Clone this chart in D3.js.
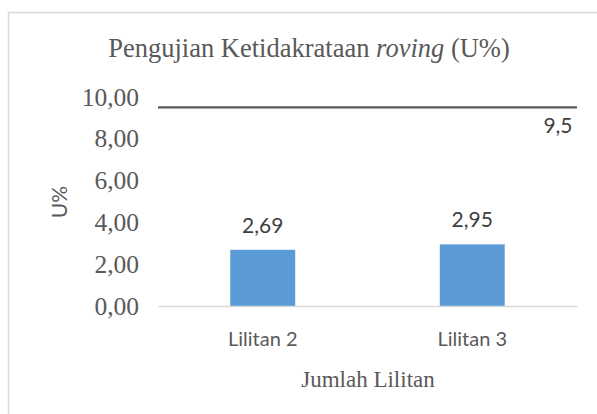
<!DOCTYPE html>
<html>
<head>
<meta charset="utf-8">
<script src="https://cdn.jsdelivr.net/npm/d3@7"></script>
<style>
  body { margin: 0; background: #fff; }
  svg { display: block; }
</style>
</head>
<body>
<div id="chart"></div>
<script>
// data
var categories = ["Lilitan 2", "Lilitan 3"];
var values = [2.69, 2.95];
var yTicks = [0, 2, 4, 6, 8, 10];
var limitValue = 9.5;

function init() {
    var w = 597;
    var h = 414;

    var svg = d3.select("#chart")
        .append("svg")
        .attr("width", w)
        .attr("height", h);

    // chart frame (runs off the right and bottom edge like the reference)
    svg.append("rect")
        .attr("x", 8.5)
        .attr("y", 12.5)
        .attr("width", 620)
        .attr("height", 420)
        .attr("fill", "#fff")
        .attr("stroke", "#d9d9d9")
        .attr("stroke-width", 1.5);

    var left = 158, right = 577, bottom = 306, top = 97;

    var comma = function(f) {
        return function(v) { return f(v).replace(".", ","); };
    };

    var xScale = d3.scaleBand()
        .domain(categories)
        .range([left, right])
        .paddingInner(0.69)
        .paddingOuter(0.345);

    var yScale = d3.scaleLinear()
        .domain([0, 10])
        .range([bottom, top]);

    // title
    var title = svg.append("text")
        .attr("x", 309)
        .attr("y", 57)
        .attr("text-anchor", "middle")
        .attr("font-family", "'Liberation Serif', 'Times New Roman', serif")
        .attr("font-size", 26.5)
        .attr("fill", "#595959");
    title.append("tspan").text("Pengujian Ketidakrataan ");
    title.append("tspan").attr("font-style", "italic").text("roving");
    title.append("tspan").text(" (U%)");

    // y axis
    var yAxis = svg.append("g")
        .attr("transform", "translate(" + left + ",0)")
        .call(d3.axisLeft(yScale)
            .tickValues(yTicks)
            .tickSize(0)
            .tickPadding(19)
            .tickFormat(comma(d3.format(".2f"))));
    yAxis.select(".domain").remove();
    yAxis.selectAll("text")
        .attr("font-family", "'Liberation Serif', 'Times New Roman', serif")
        .attr("font-size", 25.5)
        .attr("fill", "#595959");

    svg.append("text")
        .attr("transform", "translate(67,202) rotate(-90)")
        .attr("text-anchor", "middle")
        .attr("font-family", "Lato, 'Noto Sans', sans-serif")
        .attr("font-size", 21)
        .attr("fill", "#595959")
        .text("U%");

    // bars
    svg.selectAll("rect.bar")
        .data(values)
        .enter()
        .append("rect")
        .attr("class", "bar")
        .attr("x", function(d, i) { return xScale(categories[i]); })
        .attr("y", function(d) { return yScale(d); })
        .attr("width", xScale.bandwidth())
        .attr("height", function(d) { return bottom - yScale(d); })
        .attr("fill", "#5b9bd5");

    svg.selectAll("text.val")
        .data(values)
        .enter()
        .append("text")
        .attr("class", "val")
        .attr("x", function(d, i) { return xScale(categories[i]) + xScale.bandwidth() / 2; })
        .attr("y", function(d) { return yScale(d) - 17; })
        .attr("text-anchor", "middle")
        .attr("font-family", "Lato, 'Noto Sans', sans-serif")
        .attr("font-size", 21)
        .attr("fill", "#404040")
        .text(comma(d3.format(".2f")));

    // x axis
    var xAxis = svg.append("g")
        .attr("transform", "translate(0," + bottom + ")")
        .call(d3.axisBottom(xScale)
            .tickSize(0)
            .tickSizeOuter(0)
            .tickPadding(26));
    xAxis.select(".domain")
        .attr("stroke", "#d9d9d9")
        .attr("stroke-width", 1.5);
    xAxis.selectAll("text")
        .attr("font-family", "Lato, 'Noto Sans', sans-serif")
        .attr("font-size", 20)
        .attr("fill", "#595959");

    svg.append("text")
        .attr("x", 368)
        .attr("y", 387)
        .attr("text-anchor", "middle")
        .attr("font-family", "'Liberation Serif', 'Times New Roman', serif")
        .attr("font-size", 23)
        .attr("fill", "#595959")
        .text("Jumlah Lilitan");

    // reference line at 9,5
    svg.append("line")
        .attr("x1", left)
        .attr("x2", right)
        .attr("y1", yScale(limitValue))
        .attr("y2", yScale(limitValue))
        .attr("stroke", "#595959")
        .attr("stroke-width", 2.2);

    svg.append("text")
        .attr("x", 558)
        .attr("y", yScale(limitValue) + 26)
        .attr("text-anchor", "middle")
        .attr("font-family", "Lato, 'Noto Sans', sans-serif")
        .attr("font-size", 21)
        .attr("fill", "#404040")
        .text(d3.format(".1f")(limitValue).replace(".", ","));
}

window.onload = init;
</script>
</body>
</html>
